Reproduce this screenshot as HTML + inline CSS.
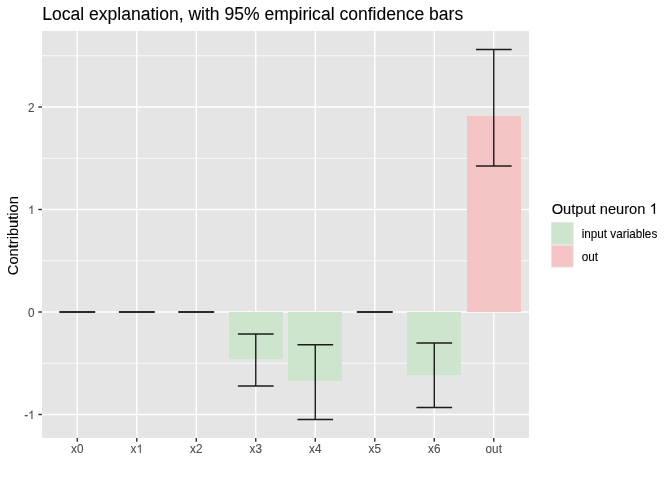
<!DOCTYPE html>
<html><head><meta charset="utf-8"><title>Local explanation</title><style>
html,body{margin:0;padding:0;background:#fff;width:672px;height:480px;overflow:hidden}
svg{display:block;will-change:transform}
text{font-family:"Liberation Sans",sans-serif}
</style></head><body>
<svg width="672" height="480" viewBox="0 0 672 480">
<rect x="42.0" y="30.9" width="487.0" height="407.10" fill="#E5E5E5"/>
<line x1="42.0" x2="529.0" y1="363.25" y2="363.25" stroke="#fff" stroke-width="0.85"/>
<line x1="42.0" x2="529.0" y1="260.75" y2="260.75" stroke="#fff" stroke-width="0.85"/>
<line x1="42.0" x2="529.0" y1="158.25" y2="158.25" stroke="#fff" stroke-width="0.85"/>
<line x1="42.0" x2="529.0" y1="55.75" y2="55.75" stroke="#fff" stroke-width="0.85"/>
<line x1="42.0" x2="529.0" y1="414.50" y2="414.50" stroke="#fff" stroke-width="1.42"/>
<line x1="42.0" x2="529.0" y1="312.00" y2="312.00" stroke="#fff" stroke-width="1.42"/>
<line x1="42.0" x2="529.0" y1="209.50" y2="209.50" stroke="#fff" stroke-width="1.42"/>
<line x1="42.0" x2="529.0" y1="107.00" y2="107.00" stroke="#fff" stroke-width="1.42"/>
<line x1="77.28" x2="77.28" y1="30.9" y2="438.0" stroke="#fff" stroke-width="1.42"/>
<line x1="136.78" x2="136.78" y1="30.9" y2="438.0" stroke="#fff" stroke-width="1.42"/>
<line x1="196.28" x2="196.28" y1="30.9" y2="438.0" stroke="#fff" stroke-width="1.42"/>
<line x1="255.77" x2="255.77" y1="30.9" y2="438.0" stroke="#fff" stroke-width="1.42"/>
<line x1="315.27" x2="315.27" y1="30.9" y2="438.0" stroke="#fff" stroke-width="1.42"/>
<line x1="374.77" x2="374.77" y1="30.9" y2="438.0" stroke="#fff" stroke-width="1.42"/>
<line x1="434.27" x2="434.27" y1="30.9" y2="438.0" stroke="#fff" stroke-width="1.42"/>
<line x1="493.77" x2="493.77" y1="30.9" y2="438.0" stroke="#fff" stroke-width="1.42"/>
<rect x="229" y="312" width="54" height="47" fill="#CCE5CC"/>
<rect x="288" y="312" width="54" height="69" fill="#CCE5CC"/>
<rect x="407" y="312" width="54" height="63" fill="#CCE5CC"/>
<rect x="467" y="116" width="54" height="196" fill="#F5C4C4"/>
<path d="M237.92,334.04H273.62M255.77,334.04V386.00M237.92,386.00H273.62" stroke="#1C1C1C" stroke-width="1.42" fill="none"/>
<path d="M297.42,344.70H333.12M315.27,344.70V419.42M297.42,419.42H333.12" stroke="#1C1C1C" stroke-width="1.42" fill="none"/>
<path d="M416.42,343.06H452.12M434.27,343.06V407.53M416.42,407.53H452.12" stroke="#1C1C1C" stroke-width="1.42" fill="none"/>
<path d="M475.92,49.50H511.62M493.77,49.50V165.94M475.92,165.94H511.62" stroke="#1C1C1C" stroke-width="1.42" fill="none"/>
<path d="M59.43,312.00H95.13" stroke="#1C1C1C" stroke-width="1.42" fill="none"/>
<path d="M59.43,312.00H95.13" stroke="#1C1C1C" stroke-width="1.42" fill="none"/>
<path d="M118.93,312.00H154.63" stroke="#1C1C1C" stroke-width="1.42" fill="none"/>
<path d="M118.93,312.00H154.63" stroke="#1C1C1C" stroke-width="1.42" fill="none"/>
<path d="M178.43,312.00H214.13" stroke="#1C1C1C" stroke-width="1.42" fill="none"/>
<path d="M178.43,312.00H214.13" stroke="#1C1C1C" stroke-width="1.42" fill="none"/>
<path d="M356.92,312.00H392.62" stroke="#1C1C1C" stroke-width="1.42" fill="none"/>
<path d="M356.92,312.00H392.62" stroke="#1C1C1C" stroke-width="1.42" fill="none"/>
<line x1="38.33" x2="42.0" y1="414.50" y2="414.50" stroke="#333" stroke-width="1.42"/>
<line x1="38.33" x2="42.0" y1="312.00" y2="312.00" stroke="#333" stroke-width="1.42"/>
<line x1="38.33" x2="42.0" y1="209.50" y2="209.50" stroke="#333" stroke-width="1.42"/>
<line x1="38.33" x2="42.0" y1="107.00" y2="107.00" stroke="#333" stroke-width="1.42"/>
<line x1="77.28" x2="77.28" y1="438.0" y2="441.67" stroke="#333" stroke-width="1.42"/>
<line x1="136.78" x2="136.78" y1="438.0" y2="441.67" stroke="#333" stroke-width="1.42"/>
<line x1="196.28" x2="196.28" y1="438.0" y2="441.67" stroke="#333" stroke-width="1.42"/>
<line x1="255.77" x2="255.77" y1="438.0" y2="441.67" stroke="#333" stroke-width="1.42"/>
<line x1="315.27" x2="315.27" y1="438.0" y2="441.67" stroke="#333" stroke-width="1.42"/>
<line x1="374.77" x2="374.77" y1="438.0" y2="441.67" stroke="#333" stroke-width="1.42"/>
<line x1="434.27" x2="434.27" y1="438.0" y2="441.67" stroke="#333" stroke-width="1.42"/>
<line x1="493.77" x2="493.77" y1="438.0" y2="441.67" stroke="#333" stroke-width="1.42"/>
<g transform="translate(0,419.00) scale(1,1.04)"><text x="24.17" y="0" style="font-size:11.73px" fill="#4D4D4D" stroke="#4D4D4D" stroke-width="0.1" xml:space="preserve">-</text><path transform="translate(28.08,0) scale(0.005728,-0.005507)" d="M763 0H583V1147Q518 1085 412 1023T221 930V1104Q372 1175 485 1276T645 1466H763Z" fill="#4D4D4D" stroke="#4D4D4D" stroke-width="17.46"/></g>
<g transform="translate(0,316.50) scale(1,1.04)"><text x="28.08" y="0" style="font-size:11.73px" fill="#4D4D4D" stroke="#4D4D4D" stroke-width="0.1" xml:space="preserve">0</text></g>
<g transform="translate(0,214.00) scale(1,1.04)"><path transform="translate(28.08,0) scale(0.005728,-0.005507)" d="M763 0H583V1147Q518 1085 412 1023T221 930V1104Q372 1175 485 1276T645 1466H763Z" fill="#4D4D4D" stroke="#4D4D4D" stroke-width="17.46"/></g>
<g transform="translate(0,111.50) scale(1,1.04)"><text x="28.08" y="0" style="font-size:11.73px" fill="#4D4D4D" stroke="#4D4D4D" stroke-width="0.1" xml:space="preserve">2</text></g>
<g transform="translate(0,452.90) scale(1,1.04)"><text x="71.09" y="0" style="font-size:11.73px" fill="#4D4D4D" stroke="#4D4D4D" stroke-width="0.1" xml:space="preserve">x0</text></g>
<g transform="translate(0,452.90) scale(1,1.04)"><text x="130.58" y="0" style="font-size:11.73px" fill="#4D4D4D" stroke="#4D4D4D" stroke-width="0.1" xml:space="preserve">x</text><path transform="translate(136.45,0) scale(0.005728,-0.005507)" d="M763 0H583V1147Q518 1085 412 1023T221 930V1104Q372 1175 485 1276T645 1466H763Z" fill="#4D4D4D" stroke="#4D4D4D" stroke-width="17.46"/></g>
<g transform="translate(0,452.90) scale(1,1.04)"><text x="190.08" y="0" style="font-size:11.73px" fill="#4D4D4D" stroke="#4D4D4D" stroke-width="0.1" xml:space="preserve">x2</text></g>
<g transform="translate(0,452.90) scale(1,1.04)"><text x="249.58" y="0" style="font-size:11.73px" fill="#4D4D4D" stroke="#4D4D4D" stroke-width="0.1" xml:space="preserve">x3</text></g>
<g transform="translate(0,452.90) scale(1,1.04)"><text x="309.08" y="0" style="font-size:11.73px" fill="#4D4D4D" stroke="#4D4D4D" stroke-width="0.1" xml:space="preserve">x4</text></g>
<g transform="translate(0,452.90) scale(1,1.04)"><text x="368.58" y="0" style="font-size:11.73px" fill="#4D4D4D" stroke="#4D4D4D" stroke-width="0.1" xml:space="preserve">x5</text></g>
<g transform="translate(0,452.90) scale(1,1.04)"><text x="428.07" y="0" style="font-size:11.73px" fill="#4D4D4D" stroke="#4D4D4D" stroke-width="0.1" xml:space="preserve">x6</text></g>
<g transform="translate(0,452.90) scale(1,1.04)"><text x="485.61" y="0" style="font-size:11.73px" fill="#4D4D4D" stroke="#4D4D4D" stroke-width="0.1" xml:space="preserve">out</text></g>
<g transform="translate(0,19.60) scale(1,1.0)"><text x="42.20" y="0" style="font-size:17.55px" fill="#000" stroke="#000" stroke-width="0.1" xml:space="preserve">Local explanation, with 95% empirical confidence bars</text></g>
<g transform="translate(18.4,235.6) rotate(-90)"><g transform="translate(0,0.00) scale(1,1.04)"><text x="-39.55" y="0" style="font-size:14.67px" fill="#000" stroke="#000" stroke-width="0.1" xml:space="preserve">Contribution</text></g></g>
<g transform="translate(0,213.70) scale(1,1.04)"><text x="551.70" y="0" style="font-size:14.67px" fill="#000" stroke="#000" stroke-width="0.1" xml:space="preserve">Output neuron </text><path transform="translate(649.57,0) scale(0.007163,-0.006888)" d="M763 0H583V1147Q518 1085 412 1023T221 930V1104Q372 1175 485 1276T645 1466H763Z" fill="#000" stroke="#000" stroke-width="13.96"/></g>
<rect x="551" y="222" width="22.7" height="45.7" fill="#E5E5E5"/>
<rect x="551.95" y="222.95" width="20.8" height="20.95" fill="#CCE5CC"/>
<rect x="551.95" y="245.8" width="20.8" height="20.95" fill="#F5C4C4"/>
<g transform="translate(0,238.20) scale(1,1.04)"><text x="581.70" y="0" style="font-size:11.73px" fill="#000" stroke="#000" stroke-width="0.1" xml:space="preserve">input variables</text></g>
<g transform="translate(0,261.20) scale(1,1.04)"><text x="581.70" y="0" style="font-size:11.73px" fill="#000" stroke="#000" stroke-width="0.1" xml:space="preserve">out</text></g>
</svg>
</body></html>
